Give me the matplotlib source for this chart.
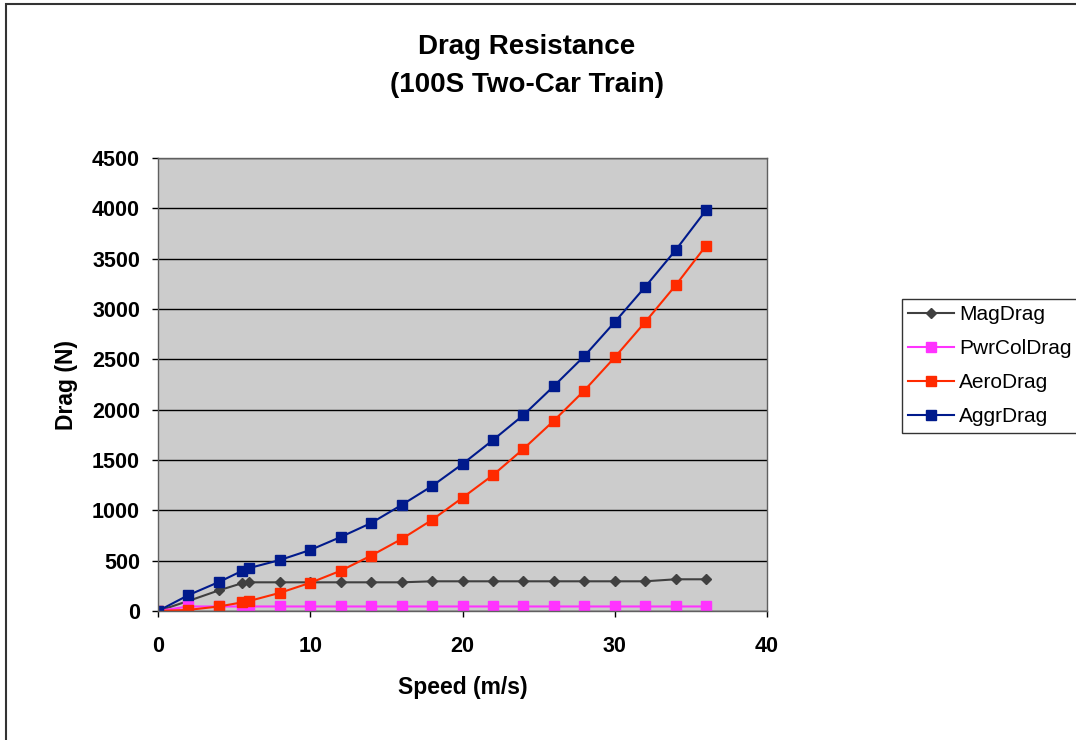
import matplotlib
matplotlib.use('Agg')
import matplotlib.pyplot as plt
from matplotlib.patches import Rectangle

speed = [0, 2, 4, 5.5, 6, 8, 10, 12, 14, 16, 18, 20, 22, 24, 26, 28, 30, 32, 34, 36]
mag_drag = [0, 100, 205, 275, 285, 285, 285, 285, 285, 285, 295, 295, 295, 295, 295, 295,
            295, 295, 315, 315]
pwrcol_drag = [0, 45, 45, 45, 45, 45, 45, 45, 45, 45, 45, 45, 45, 45, 45, 45, 45, 45, 45, 45]
aero_drag = [0, 11, 45, 85, 100, 180, 280, 400, 550, 715, 905, 1125, 1350, 1610, 1890,
             2190, 2520, 2870, 3235, 3630]
aggr_drag = [0, 158, 288, 397, 427, 506, 606, 735, 874, 1053, 1241, 1460, 1698, 1946,
             2234, 2532, 2870, 3220, 3585, 3982]

plt.rcParams['font.family'] = ['Liberation Sans', 'DejaVu Sans']

fig = plt.figure(figsize=(10.76, 7.40), dpi=100)
ax = fig.add_axes([158 / 1076, 1 - 611 / 740, (767 - 158) / 1076, (611 - 158) / 740])
ax.set_facecolor('#cccccc')

ax.plot(speed, mag_drag, color='#404040', lw=1.5, marker='D', ms=5.5, label='MagDrag')
ax.plot(speed, pwrcol_drag, color='#ff33ff', lw=1.5, marker='s', ms=7.5,
        label='PwrColDrag')
ax.plot(speed, aero_drag, color='#ff2a00', lw=1.5, marker='s', ms=7.5, label='AeroDrag')
ax.plot(speed, aggr_drag, color='#001a8c', lw=1.5, marker='s', ms=7.5, label='AggrDrag')

ax.set_xlim(0, 40)
ax.set_ylim(0, 4500)
ax.set_xticks(range(0, 41, 10))
ax.set_yticks(range(0, 4501, 500))
ax.grid(axis='y', color='black', lw=1)
ax.set_axisbelow(True)
for s in ax.spines.values():
    s.set_color('#606060')
    s.set_linewidth(1)
ax.tick_params(direction='out', length=4, width=1, labelsize=15.5)
ax.tick_params(axis='y', pad=9)
ax.tick_params(axis='x', pad=14)
for lbl in ax.get_xticklabels() + ax.get_yticklabels():
    lbl.set_fontweight('bold')

ax.set_xlabel('Speed (m/s)', fontsize=16.5, fontweight='bold', labelpad=14)
ax.set_ylabel('Drag (N)', fontsize=16.5, fontweight='bold', labelpad=10)

fig.text(527 / 1076, 1 - 47 / 740, 'Drag Resistance', ha='center', va='center',
         fontsize=20, fontweight='bold')
fig.text(527 / 1076, 1 - 85 / 740, '(100S Two-Car Train)', ha='center', va='center',
         fontsize=20, fontweight='bold')

leg = fig.legend(loc='upper left', bbox_to_anchor=(902 / 1076, 1 - 299 / 740),
                 fontsize=15, frameon=True, fancybox=False, handlelength=2.2,
                 labelspacing=0.72, borderpad=0.3, handletextpad=0.25,
                 borderaxespad=0)
leg.get_frame().set_edgecolor('black')
leg.get_frame().set_linewidth(1)

fig.patches.append(Rectangle((6 / 1076, -0.05), 1.1, 1.05 - 4 / 740, transform=fig.transFigure,
                             fill=False, edgecolor='#333333', lw=1.5))

fig.savefig('out.png', dpi=100)
